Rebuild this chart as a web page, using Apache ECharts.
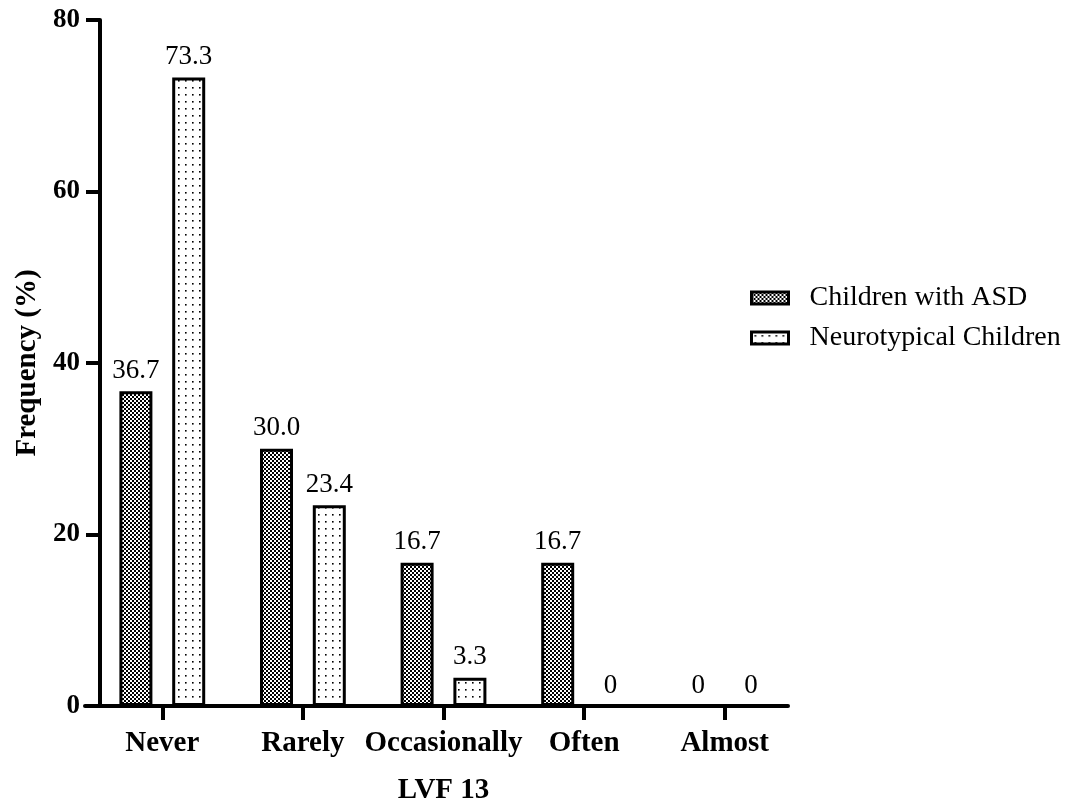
<!DOCTYPE html>
<html>
<head>
<meta charset="utf-8">
<script src="https://cdn.jsdelivr.net/npm/echarts@6/dist/echarts.min.js"></script>
<style>
  html, body { margin: 0; padding: 0; background: #fff; }
  #chart { width: 1074px; height: 802px; }
</style>
</head>
<body>
<div id="chart"></div>
<script>
// Response categories for item LVF 13
var categories = ['Never', 'Rarely', 'Occasionally', 'Often', 'Almost'];
// Frequency (%) per group
var asdValues = [36.7, 30.0, 16.7, 16.7, 0];
var ntValues = [73.3, 23.4, 3.3, 0, 0];
var seriesNames = ['Children with ASD', 'Neurotypical Children'];
var yTicks = [0, 20, 40, 60, 80];

var FONT = '"Liberation Serif", "Times New Roman", serif';

// Fill patterns: fine checkerboard and sparse dots
function checkerPattern() {
  var c = document.createElement('canvas');
  c.width = 4; c.height = 4;
  var g = c.getContext('2d');
  g.fillStyle = '#fff'; g.fillRect(0, 0, 4, 4);
  g.fillStyle = '#000';
  g.fillRect(0, 0, 2, 2);
  g.fillRect(2, 2, 2, 2);
  return c;
}
function dotPattern() {
  var c = document.createElement('canvas');
  c.width = 7; c.height = 7;
  var g = c.getContext('2d');
  g.fillStyle = '#fff'; g.fillRect(0, 0, 7, 7);
  g.fillStyle = '#000';
  g.fillRect(3, 3, 1.6, 1.6);
  return c;
}

// Zero-height bars get no outline so nothing is drawn for them
function toItems(values) {
  return values.map(function (v) {
    return v === 0 ? { value: v, itemStyle: { borderWidth: 0 } } : { value: v };
  });
}

function fmt(p) {
  return p.value === 0 ? '0' : p.value.toFixed(1);
}

var labelStyle = {
  show: true, position: 'top', distance: 7,
  fontFamily: FONT, fontSize: 27, color: '#000', formatter: fmt
};

var chart = echarts.init(document.getElementById('chart'), null, { renderer: 'canvas' });
chart.setOption({
  backgroundColor: '#fff',
  animation: false,
  grid: [
    { left: 92, right: 279, top: 20, bottom: 96, outerBoundsMode: 'none', containLabel: false },
    { left: 85, right: 286, top: 20, bottom: 96, outerBoundsMode: 'none', containLabel: false }
  ],
  legend: {
    orient: 'vertical', left: 750, top: 284, padding: 0,
    itemWidth: 37, itemHeight: 12, itemGap: 12,
    icon: 'rect',
    itemStyle: { borderColor: '#000', borderWidth: 3 },
    textStyle: { fontFamily: FONT, fontSize: 28, color: '#000', padding: [0, 0, 0, 16] },
    data: seriesNames
  },
  xAxis: [
    {
      type: 'category', gridIndex: 0, data: categories,
      axisLine: { show: false },
      axisTick: { show: true, alignWithLabel: true, length: 14, lineStyle: { color: '#000', width: 4 } },
      axisLabel: { interval: 0, hideOverlap: false, fontFamily: FONT, fontSize: 29, fontWeight: 'bold', color: '#000', margin: 23 },
      name: 'LVF 13', nameLocation: 'middle', nameGap: 70,
      nameTextStyle: { fontFamily: FONT, fontSize: 29, fontWeight: 'bold', color: '#000' }
    },
    {
      type: 'value', gridIndex: 1, min: 0, max: 1,
      axisLine: { show: true, onZero: false, lineStyle: { color: '#000', width: 4 } },
      axisTick: { show: false }, axisLabel: { show: false }, splitLine: { show: false }
    }
  ],
  yAxis: [
    {
      type: 'value', gridIndex: 0, min: yTicks[0], max: yTicks[yTicks.length - 1], interval: 20,
      offset: -8,
      axisLine: { show: true, lineStyle: { color: '#000', width: 4 } },
      axisTick: { show: true, length: 14, lineStyle: { color: '#000', width: 4 } },
      axisLabel: { fontFamily: FONT, fontSize: 27, fontWeight: 'bold', color: '#000', margin: 20 },
      splitLine: { show: false },
      name: 'Frequency (%)', nameLocation: 'middle', nameGap: 56,
      nameTextStyle: { fontFamily: FONT, fontSize: 29, fontWeight: 'bold', color: '#000' }
    },
    {
      type: 'value', gridIndex: 1, min: 0, max: 1, show: false
    }
  ],
  series: [
    {
      name: seriesNames[0], type: 'bar', xAxisIndex: 0, yAxisIndex: 0,
      data: toItems(asdValues), barWidth: 33, barGap: '60%',
      itemStyle: { color: { image: checkerPattern(), repeat: 'repeat' }, borderColor: '#000', borderWidth: 3 },
      label: labelStyle
    },
    {
      name: seriesNames[1], type: 'bar', xAxisIndex: 0, yAxisIndex: 0,
      data: toItems(ntValues), barWidth: 33, barGap: '60%',
      itemStyle: { color: { image: dotPattern(), repeat: 'repeat' }, borderColor: '#000', borderWidth: 3 },
      label: labelStyle
    }
  ]
});
</script>
</body>
</html>
